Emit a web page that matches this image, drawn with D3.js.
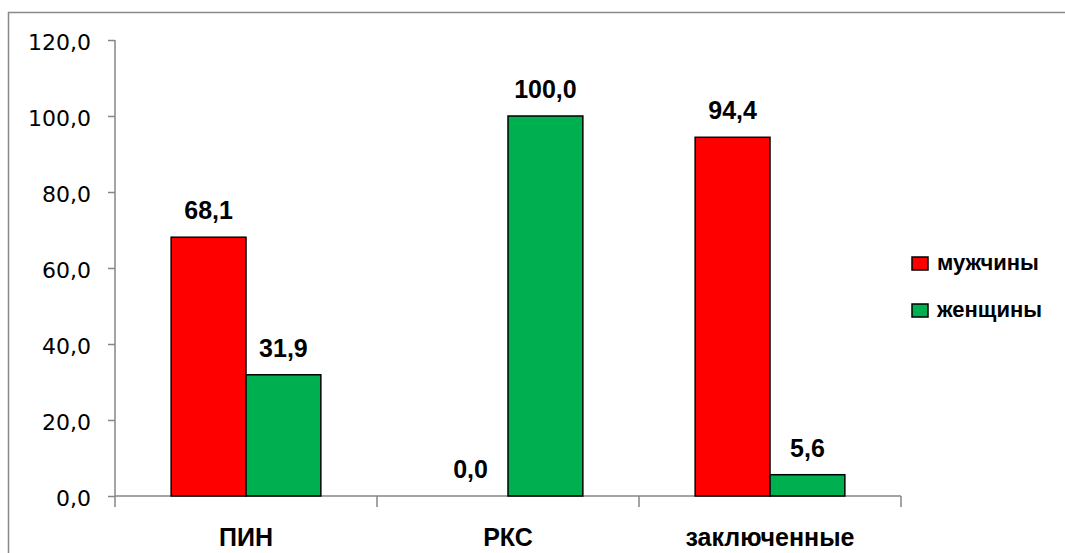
<!DOCTYPE html>
<html>
<head>
<meta charset="utf-8">
<script src="https://cdn.jsdelivr.net/npm/d3@7"></script>
<style>
  body { margin: 0; background: #fff; }
  svg { display: block; }
</style>
</head>
<body>
<div id="chart"></div>
<script>
// data
const categories = ['ПИН', 'РКС', 'заключенные'];
const seriesNames = ['мужчины', 'женщины'];
const men = [68.1, 0.0, 94.4];
const women = [31.9, 100.0, 5.6];
const yTicks = [0, 20, 40, 60, 80, 100, 120];
const colors = ['#FF0000', '#00B050'];

const width = 1065;
const height = 553;
const margin = { top: 40, right: 164, bottom: 57, left: 115 };

const svg = d3.select('#chart').append('svg')
    .attr('width', width)
    .attr('height', height);

// outer chart border (runs off the right and bottom edge)
svg.append('rect')
    .attr('x', 8.5).attr('y', 12.5)
    .attr('width', 1100).attr('height', 600)
    .attr('fill', 'none')
    .attr('stroke', '#898989')
    .attr('stroke-width', 1.5);

// scales
const x0 = d3.scaleBand()
    .domain(categories)
    .range([margin.left, width - margin.right])
    .padding(0);

const x1 = d3.scaleBand()
    .domain(seriesNames)
    .range([0, x0.bandwidth()])
    .paddingInner(0)
    .paddingOuter(0.75);

const y = d3.scaleLinear()
    .domain([0, 120])
    .range([height - margin.bottom, margin.top]);

// y axis
const yAxis = svg.append('g')
    .attr('transform', `translate(${margin.left},0)`)
    .call(d3.axisLeft(y).tickValues(yTicks).tickSize(7).tickPadding(17)
        .tickFormat(d => d3.format('.1f')(d).replace('.', ',')));
yAxis.select('.domain').remove();
yAxis.append('line')
    .attr('x1', 0).attr('x2', 0)
    .attr('y1', y(120)).attr('y2', y(0) + 11)
    .attr('stroke', '#868686').attr('stroke-width', 1.5);
yAxis.selectAll('.tick line').attr('stroke', '#868686').attr('stroke-width', 1.5);
yAxis.selectAll('.tick text')
    .attr('fill', '#000')
    .attr('dy', '0.42em')
    .style('font-family', '"DejaVu Sans", sans-serif')
    .style('font-size', '22px');

// x axis
const xAxis = svg.append('g')
    .attr('transform', `translate(0,${y(0)})`);
xAxis.append('line')
    .attr('x1', margin.left).attr('x2', width - margin.right)
    .attr('y1', 0).attr('y2', 0)
    .attr('stroke', '#868686').attr('stroke-width', 1.5);
xAxis.selectAll('.xtick')
    .data(categories.slice(1).concat(['end']))
    .enter().append('line')
    .attr('x1', (d, i) => margin.left + x0.step() * (i + 1))
    .attr('x2', (d, i) => margin.left + x0.step() * (i + 1))
    .attr('y1', 0).attr('y2', 11)
    .attr('stroke', '#868686').attr('stroke-width', 1.5);
xAxis.selectAll('.xlabel')
    .data(categories)
    .enter().append('text')
    .attr('x', d => x0(d) + x0.bandwidth() / 2)
    .attr('y', 50)
    .attr('text-anchor', 'middle')
    .style('font-family', '"Liberation Sans", Arial, sans-serif')
    .style('font-weight', 'bold')
    .style('font-size', '25px')
    .text(d => d);

// bars
const rows = categories.map((c, i) => ({ cat: c, values: [men[i], women[i]] }));

const groups = svg.selectAll('.group')
    .data(rows)
    .enter().append('g')
    .attr('transform', d => `translate(${x0(d.cat)},0)`);

groups.selectAll('rect')
    .data(d => d.values.map((v, j) => ({ name: seriesNames[j], value: v, j })))
    .enter().append('rect')
    .attr('x', d => x1(d.name))
    .attr('y', d => y(d.value))
    .attr('width', x1.bandwidth())
    .attr('height', d => y(0) - y(d.value))
    .attr('fill', d => colors[d.j])
    .attr('stroke', d => d.value > 0 ? '#000' : 'none')
    .attr('stroke-width', 1.5);

groups.selectAll('.label')
    .data(d => d.values.map((v, j) => ({ name: seriesNames[j], value: v })))
    .enter().append('text')
    .attr('x', d => x1(d.name) + x1.bandwidth() / 2)
    .attr('y', d => y(d.value) - 18)
    .attr('text-anchor', 'middle')
    .style('font-family', '"Liberation Sans", Arial, sans-serif')
    .style('font-weight', 'bold')
    .style('font-size', '25px')
    .text(d => d3.format('.1f')(d.value).replace('.', ','));

// legend
const legend = svg.append('g')
    .attr('transform', 'translate(912,257)');

const items = legend.selectAll('.item')
    .data(seriesNames)
    .enter().append('g')
    .attr('transform', (d, i) => `translate(0,${i * 47})`);

items.append('rect')
    .attr('x', 0).attr('y', 0)
    .attr('width', 16).attr('height', 13)
    .attr('fill', (d, i) => colors[i])
    .attr('stroke', '#000')
    .attr('stroke-width', 1.5);

items.append('text')
    .attr('x', 25)
    .attr('y', 13)
    .style('font-family', '"Liberation Sans", Arial, sans-serif')
    .style('font-weight', 'bold')
    .style('font-size', '22px')
    .text(d => d);
</script>
</body>
</html>
